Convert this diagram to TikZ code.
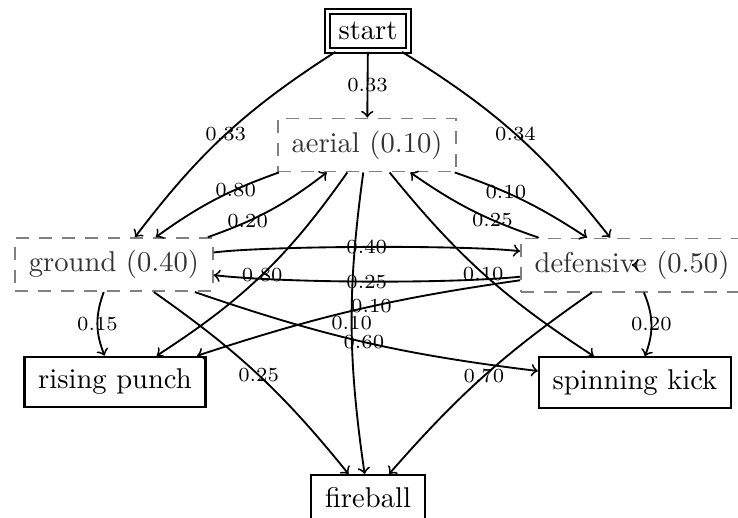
\documentclass[tikz,border=0pt]{standalone}
\usepackage{amsmath}
\usepackage{tikz}
\usepackage{xcolor}

\begin{document}
\begin{tikzpicture}[
		begin/.style={draw, double, line width=0.7pt, double distance=1pt, inner sep=3.8pt},
		state/.style={draw=gray, semithick, dash pattern=on 4.5pt off 3.5pt, text=black!80, inner xsep=4.8pt, inner ysep=4.3pt},
		move/.style={draw, thick, inner xsep=4.8pt, inner ysep=4.3pt},
		trans/.style={->, line width=0.65pt},
		prob/.style={font=\scriptsize, inner sep=1pt}
	]
				\useasboundingbox (0,0) rectangle (9.07,-6.354);
				
				% Start
				\node[begin] (start) at (4.523,-0.381) {start};
				
				% States
				\node[state] (aerial) at (4.511,-1.782) {aerial (0.10)};
				\node[state] (ground) at (1.401,-3.252) {ground (0.40)};
				\node[state] (defensive) at (7.767,-3.258) {defensive (0.50)};
				
				% Moves
				\node[move] (rising) at (1.413,-4.695) {rising punch};
				\node[move] (spinning) at (7.804,-4.701) {spinning kick};
				\node[move] (fireball) at (4.523,-6.117) {fireball};
				
				% From start
				\draw[trans] (start) -- node[prob] {0.33} (aerial);
				\draw[trans] (start) to[bend right=10] node[prob] {0.33} (ground);
				\draw[trans] (start) to[bend left=10] node[prob] {0.34} (defensive);
				
				% Between states
				\draw[trans] (aerial) to[bend right=8] node[prob, pos=0.32] {0.80} (ground);
				\draw[trans] (ground) to[bend right=9] node[prob, pos=0.3] {0.20} (aerial);
				\draw[trans] (aerial) to[bend left=7] node[prob, pos=0.36] {0.10} (defensive);
				\draw[trans] (defensive) to[bend left=8] node[prob, pos=0.33] {0.25} (aerial);
				\draw[trans] (ground) to[bend left=7, looseness=0.45] node[prob] {0.40} (defensive);
				\draw[trans] (defensive) to[bend left=6, looseness=0.6] node[prob] {0.25} (ground);
				\draw[trans] ([xshift=0.1pt]defensive.center) -- (defensive.center);
				
				% To moves
				\draw[trans] (ground) to[bend right=21] node[prob] {0.15} (rising);
				\draw[trans] (aerial) to[bend left=11] node[prob] {0.80} (rising);
				\draw[trans] (defensive) to[bend right=5] node[prob, pos=0.45] {0.10} (rising);
				\draw[trans] (aerial) to[bend right=8] node[prob] {0.10} (fireball);
				\draw[trans] (ground) to[bend left=8] node[prob] {0.25} (fireball);
				\draw[trans] (defensive) to[bend right=7] node[prob] {0.70} (fireball);
				\draw[trans] (ground) to[bend right=6] node[prob] {0.60} (spinning);
				\draw[trans] (aerial) to[bend right=9] node[prob] {0.10} (spinning);
				\draw[trans] (defensive) to[bend left=22] node[prob] {0.20} (spinning);
			\end{tikzpicture}
\end{document}
